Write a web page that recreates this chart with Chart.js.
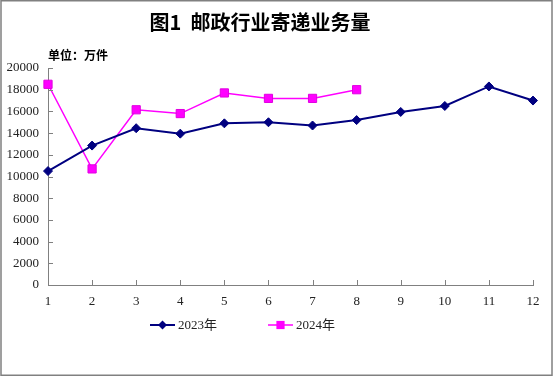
<!DOCTYPE html>
<html lang="zh">
<head>
    <meta charset="UTF-8">
    <title>图1 邮政行业寄递业务量</title>
    <script src="https://cdn.jsdelivr.net/npm/chart.js"></script>
    <style>
        body { margin: 0; background: #fff; }
        #wrap { width: 556px; height: 376px; }
    </style>
</head>
<body>
    <div id="wrap"><canvas id="postChart" width="556" height="376"></canvas></div>

    <script>
        const months = ['1', '2', '3', '4', '5', '6', '7', '8', '9', '10', '11', '12'];
        const volume2023 = [10500, 12850, 14450, 13950, 14900, 15000, 14700, 15200, 15950, 16500, 18300, 17000];
        const volume2024 = [18500, 10700, 16150, 15800, 17700, 17200, 17200, 18000];
        const seriesNames = ['2023年', '2024年'];
        const yTicks = { min: 0, max: 20000, step: 2000 };

        const serifFont = "'Liberation Serif', 'DejaVu Serif', serif";
        const cjkFont = "'Noto Sans CJK SC', sans-serif";

        // frame, title, unit note, inward tick marks and the legend are painted by hand
        const decorations = {
            id: 'decorations',
            beforeDraw(chart) {
                const ctx = chart.ctx;
                ctx.save();
                ctx.fillStyle = '#fff';
                ctx.fillRect(0, 0, chart.width, chart.height);
                ctx.restore();
            },
            afterDraw(chart) {
                const ctx = chart.ctx;
                const area = chart.chartArea;
                const xs = chart.scales.x, ys = chart.scales.y;
                ctx.save();

                // short ticks pointing into the plot
                ctx.strokeStyle = '#808080';
                ctx.lineWidth = 1;
                ctx.beginPath();
                xs.ticks.forEach((t, i) => {
                    const px = Math.round(xs.getPixelForTick(i)) + 0.5;
                    ctx.moveTo(px, area.bottom);
                    ctx.lineTo(px, area.bottom - 5);
                });
                ys.ticks.forEach((t, i) => {
                    const py = Math.round(ys.getPixelForTick(i)) + 0.5;
                    ctx.moveTo(area.left, py);
                    ctx.lineTo(area.left + 5, py);
                });
                ctx.stroke();

                ctx.lineWidth = 1.5;
                ctx.strokeRect(1, 0.75, 551, 374.5);

                ctx.fillStyle = '#000';
                ctx.textBaseline = 'middle';
                ctx.textAlign = 'center';
                ctx.font = "bold 20px " + cjkFont;
                ctx.fillText('图1  邮政行业寄递业务量', 260, 22);

                ctx.textAlign = 'left';
                ctx.font = "bold 12px " + cjkFont;
                ctx.fillText('单位：万件', 48, 55);

                const spots = [150, 268];
                chart.data.datasets.forEach((ds, i) => {
                    const x = spots[i], y = 325;
                    ctx.strokeStyle = ds.borderColor;
                    ctx.lineWidth = ds.borderWidth;
                    ctx.beginPath();
                    ctx.moveTo(x, y);
                    ctx.lineTo(x + 25, y);
                    ctx.stroke();
                    ctx.fillStyle = ds.pointBackgroundColor;
                    const cx = x + 12.5;
                    if (ds.pointStyle === 'rectRot') {
                        const r = ds.pointRadius;
                        ctx.beginPath();
                        ctx.moveTo(cx - r, y);
                        ctx.lineTo(cx, y - r);
                        ctx.lineTo(cx + r, y);
                        ctx.lineTo(cx, y + r);
                        ctx.closePath();
                        ctx.fill();
                    } else {
                        const s = ds.pointRadius * Math.SQRT1_2;
                        ctx.fillRect(cx - s, y - s, 2 * s, 2 * s);
                    }
                    ctx.fillStyle = '#222';
                    ctx.font = "13px " + serifFont + ", " + cjkFont;
                    ctx.fillText(ds.label, x + 28, y + 1);
                });
                ctx.restore();
            }
        };

        const ctx = document.getElementById('postChart').getContext('2d');
        new Chart(ctx, {
            type: 'line',
            data: {
                labels: months,
                datasets: [{
                    label: seriesNames[0],
                    data: volume2023,
                    borderColor: '#000080',
                    backgroundColor: '#000080',
                    pointBackgroundColor: '#000080',
                    pointBorderColor: '#000080',
                    borderWidth: 2,
                    pointStyle: 'rectRot',
                    pointRadius: 4.5,
                    pointBorderWidth: 1,
                    tension: 0
                }, {
                    label: seriesNames[1],
                    data: volume2024,
                    borderColor: '#ff00ff',
                    backgroundColor: '#ff00ff',
                    pointBackgroundColor: '#ff00ff',
                    pointBorderColor: '#e000e0',
                    borderWidth: 1.5,
                    pointStyle: 'rect',
                    pointRadius: 5.8,
                    pointBorderWidth: 1,
                    tension: 0
                }]
            },
            options: {
                responsive: false,
                animation: false,
                layout: { padding: { left: 0, right: 23, top: 68, bottom: 0 } },
                plugins: {
                    legend: { display: false },
                    title: { display: false },
                    tooltip: { enabled: false }
                },
                scales: {
                    x: {
                        offset: false,
                        afterFit(scale) { scale.height = 91; },
                        grid: { display: false, drawTicks: false, tickLength: 0 },
                        border: { display: true, color: '#808080', width: 1 },
                        ticks: { color: '#222', padding: 9, font: { family: serifFont, size: 13 } }
                    },
                    y: {
                        min: yTicks.min,
                        max: yTicks.max,
                        afterFit(scale) { scale.width = 48; },
                        grid: { display: false, drawTicks: false, tickLength: 0 },
                        border: { display: true, color: '#808080', width: 1 },
                        ticks: {
                            stepSize: yTicks.step,
                            color: '#222',
                            padding: 9,
                            font: { family: serifFont, size: 13 },
                            callback: v => String(v)
                        }
                    }
                }
            },
            plugins: [decorations]
        });
    </script>
</body>
</html>
